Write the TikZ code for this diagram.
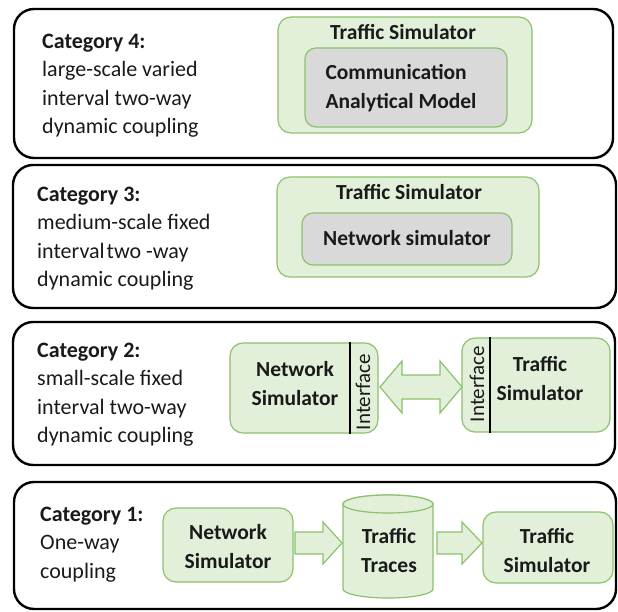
\documentclass[tikz,border=0pt]{standalone}
\usepackage{fontspec}
\setmainfont{Carlito}
\usetikzlibrary{calc}
\definecolor{boxgreen}{HTML}{E2EFD9}
\definecolor{edgegreen}{HTML}{8DC26C}
\definecolor{innergray}{HTML}{D9D9D9}
\definecolor{inkblack}{HTML}{1A1A1A}

\begin{document}
\begin{tikzpicture}[x=1pt,y=-1pt,
  catbox/.style={draw=black, line width=2.4pt, rounded corners=20pt, inner sep=0pt},
  simbox/.style={draw=edgegreen, fill=boxgreen, line width=1.2pt, rounded corners=13pt, inner sep=0pt},
  graybox/.style={draw=edgegreen, fill=innergray, line width=1.2pt, rounded corners=11pt, inner sep=0pt},
  cattext/.style={anchor=north west, align=left, inner sep=0pt, text=inkblack,
                  font=\fontsize{22}{28.3}\selectfont},
  boxtext/.style={align=center, inner sep=0pt, text=inkblack,
                  font=\bfseries\fontsize{21.5}{29}\selectfont},
  sidetext/.style={rotate=90, inner sep=0pt, text=inkblack, font=\fontsize{21}{21}\selectfont},
  fatarrow/.style={draw=edgegreen, fill=boxgreen, line width=1.2pt, line join=miter}
]
\useasboundingbox (0,0) rectangle (618,612);

% ---- the four category frames ----
\node[catbox, minimum width=599pt, minimum height=149pt] (cat4) at (313.5,83.5) {};
\node[catbox, minimum width=603pt, minimum height=143pt] (cat3) at (314.5,236.5) {};
\node[catbox, minimum width=602pt, minimum height=143pt] (cat2) at (314,393.5) {};
\node[catbox, minimum width=602pt, minimum height=127pt] (cat1) at (315,545.5) {};

% ---- category descriptions ----
\node[cattext] (d4) at (42,34) {\textbf{Category 4:}\\large-scale varied\\interval two-way\\dynamic coupling};
\node[cattext] (d3) at (37,187) {\textbf{Category 3:}\\medium-scale fixed\\interval\kern2pt two -way\\dynamic coupling};
\node[cattext] (d2) at (37,343) {\textbf{Category 2:}\\small-scale fixed\\interval two-way\\dynamic coupling};
\node[cattext] (d1) at (40,507) {\textbf{Category 1:}\\One-way\\coupling};

% ---- category 4: analytical model inside the traffic simulator ----
\node[simbox, minimum width=254pt, minimum height=116pt] (ts4) at (405,75) {};
\node[boxtext] (ts4t) at (403,32) {Traffic Simulator};
\node[graybox, minimum width=202pt, minimum height=79pt] (cam) at (406,87.5) {};
\node[boxtext, align=left] (camt) at (401,88) {Communication\\Analytical Model};

% ---- category 3: network simulator inside the traffic simulator ----
\node[simbox, minimum width=262pt, minimum height=100pt] (ts3) at (408,227) {};
\node[boxtext] (ts3t) at (409,192) {Traffic Simulator};
\node[graybox, minimum width=210pt, minimum height=52pt] (ns3) at (407,239) {};
\node[boxtext] (ns3t) at (407,238) {Network simulator};

% ---- category 2: two simulators joined through interfaces ----
\node[simbox, minimum width=148pt, minimum height=90pt] (ns2) at (304,388) {};
\node[boxtext] (ns2t) at (295,384) {Network\\Simulator};
\coordinate (ns2if) at (350,388);
\draw[black, line width=1.2pt] (ns2if |- ns2.north) -- (ns2if |- ns2.south);
\node[sidetext] (ns2i) at (363,392) {Interface};

\node[simbox, minimum width=148pt, minimum height=94pt] (ts2) at (536,385) {};
\node[boxtext] (ts2t) at (540,379) {Traffic\\Simulator};
\coordinate (ts2if) at (490,385);
\draw[black, line width=1.2pt] (ts2if |- ts2.north) -- (ts2if |- ts2.south);
\node[sidetext] (ts2i) at (477,384) {Interface};

% two-way block arrow between the interfaces
\draw[fatarrow] (380,387) -- (402,361) -- (402,375) -- (440,375) -- (440,361)
  -- (462,387) -- (440,413) -- (440,399) -- (402,399) -- (402,413) -- cycle;

% ---- category 1: one-way chain through stored traces ----
\node[simbox, minimum width=130pt, minimum height=74pt] (ns1) at (228,545) {};
\node[boxtext] (ns1t) at (228,547) {Network\\Simulator};

% trace store drawn as a cylinder
\node[inner sep=0pt, minimum width=90pt, minimum height=103pt] (tr1) at (388,546.5) {};
\draw[fatarrow] (343,504) -- (343,589) arc[start angle=180, end angle=360, x radius=45pt, y radius=9pt]
  -- (433,504) arc[start angle=0, end angle=180, x radius=45pt, y radius=9pt] -- cycle;
\draw[fatarrow] (388,504) ellipse [x radius=45pt, y radius=9pt];
\node[boxtext] (tr1t) at (389,551) {Traffic\\Traces};

\node[simbox, minimum width=130pt, minimum height=71pt] (ts1) at (548,547.5) {};
\node[boxtext] (ts1t) at (547,551) {Traffic\\Simulator};

% one-way block arrows
\draw[fatarrow] (295,532) -- (323,532) -- (323,522) -- (342,543) -- (323,564) -- (323,554) -- (295,554) -- cycle;
\draw[fatarrow] (437,532) -- (462,532) -- (462,522) -- (482,543) -- (462,564) -- (462,554) -- (437,554) -- cycle;
\end{tikzpicture}
\end{document}
